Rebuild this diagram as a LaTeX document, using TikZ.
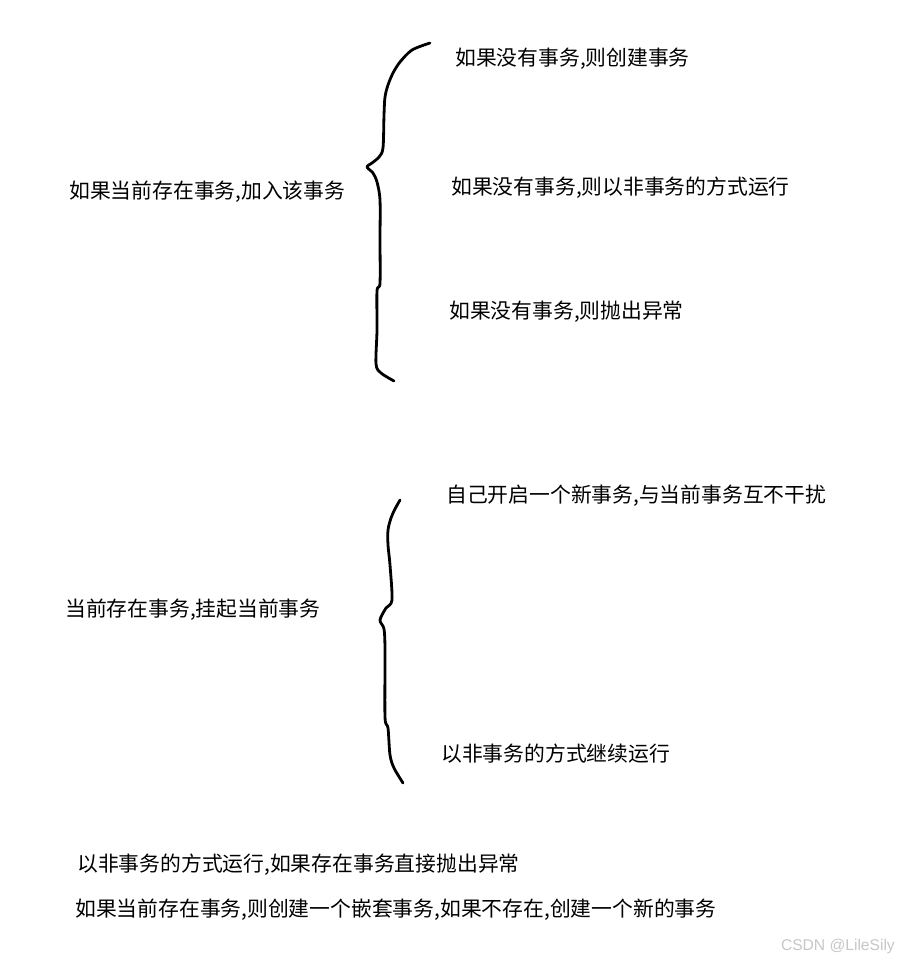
\documentclass[tikz,border=0pt]{standalone}
\usepackage{fontspec}
\setmainfont{Noto Sans CJK SC}
\newfontfamily\markfont{Liberation Sans}

\begin{document}
\begin{tikzpicture}[x=1pt,y=-1pt,
	txt/.style={anchor=west,inner sep=0pt,font=\fontsize{20.8}{24}\selectfont},
	brace/.style={line width=2.8pt,line cap=round,line join=round}]
	\useasboundingbox[fill=white] (0,0) rectangle (899,960);
	% first group
	\node[txt] (cur1) at (69,192) {如果当前存在事务,加入该事务};
	\node[txt] (opt1) at (455,59) {如果没有事务,则创建事务};
	\node[txt] (opt2) at (451,188) {如果没有事务,则以非事务的方式运行};
	\node[txt] (opt3) at (449,312) {如果没有事务,则抛出异常};
	\draw[brace] plot[smooth,tension=0.5] coordinates {(430,43) (412,50) (400,62) (393,73) (388,85) (385,97) (384,115) (383,148) (379,157) (372,163) (367,167) (373,173) (377,182) (380,200) (380,240) (380,283) (377,291) (377,330) (376,364) (381,373) (394,381)};
	% second group
	\node[txt] (cur2) at (65,610) {当前存在事务,挂起当前事务};
	\node[txt] (opt4) at (446,496) {自己开启一个新事务,与当前事务互不干扰};
	\node[txt] (opt5) at (441,754) {以非事务的方式继续运行};
	\draw[brace] plot[smooth,tension=0.5] coordinates {(400,500) (395,509) (391,518) (388,530) (388,545) (390,565) (392,600) (386,608) (380,620) (384,629) (385,650) (385,717) (388,728) (390,755) (394,768) (403,783)};
	% plain lines
	\node[txt] (never) at (77,865) {以非事务的方式运行,如果存在事务直接抛出异常};
	\node[txt] (nested) at (75,910) {如果当前存在事务,则创建一个嵌套事务,如果不存在,创建一个新的事务};
	\node[anchor=east,inner sep=0pt,text=black!22,font=\markfont\fontsize{15.6}{18}\selectfont] (mark) at (895,946) {CSDN @LileSily};
\end{tikzpicture}
\end{document}
